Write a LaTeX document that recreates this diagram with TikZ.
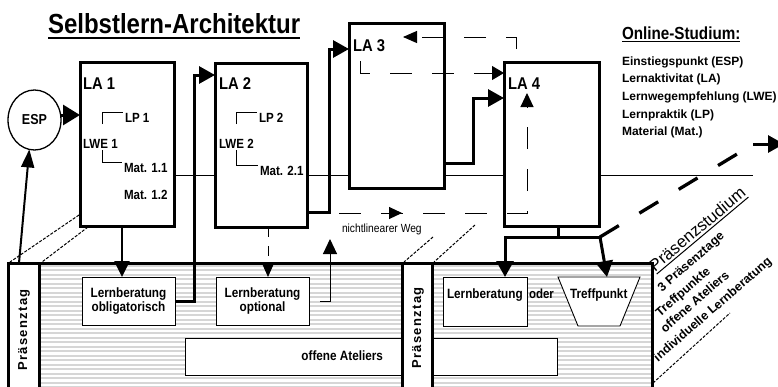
\documentclass[tikz,border=0pt]{standalone}
\usepackage{fontspec}
\setmainfont{Liberation Sans}[FakeStretch=0.87]
\newfontfamily\plainfont{Liberation Sans}
\newfontfamily\spacedfont{Liberation Sans}[LetterSpace=10]
\usetikzlibrary{arrows.meta,shapes.geometric,decorations.markings}
\newcommand\fsz[2]{\fontsize{#1}{#2}\selectfont}
\begin{document}
\begin{tikzpicture}[x=1pt,y=-1pt,
  labox/.style={draw,line width=3pt,fill=white,inner sep=0pt,outer sep=0pt,anchor=north west},
  lbbox/.style={draw,line width=0.9pt,fill=white,inner sep=0pt,outer sep=0pt,anchor=north west,align=center,font=\fsz{13.5pt}{14.5pt}\bfseries},
  txt/.style={inner sep=0pt,outer sep=0pt,anchor=base west},
  latxt/.style={txt,font=\fsz{17pt}{17pt}\bfseries},
  smtxt/.style={txt,font=\fsz{13.3pt}{13.3pt}\bfseries},
  legtxt/.style={txt,font=\plainfont\fsz{12pt}{12pt}\bfseries},
  rottxt/.style={txt,rotate=41,font=\plainfont\fsz{12.4pt}{12.4pt}\bfseries},
  pztxt/.style={rotate=90,inner sep=0pt,font=\spacedfont\fsz{13pt}{13pt}\bfseries},
  stripe/.style={line width=2pt,gray!32},
  border/.style={line width=3pt},
  bracket/.style={line width=0.9pt},
  thickarrow/.style={line width=3pt,-{Triangle[length=16pt,width=17pt]}},
  medarrow/.style={line width=2.5pt,-{Triangle[length=16pt,width=15pt]}},
  thinarrow/.style={line width=1pt,-{Triangle[length=15pt,width=14pt]}},
  dashpath/.style={line width=1pt,dash pattern=on 22pt off 20pt},
  finedash/.style={line width=1pt,dash pattern=on 3pt off 1.5pt},
]
\useasboundingbox (0,0) rectangle (778,386);
\clip (0,0) rectangle (778,386);

% ---------- title and legend
\node[txt,font=\fsz{27.6pt}{28pt}\bfseries] (title) at (48,33) {Selbstlern-Architektur};
\draw[line width=1.3pt] ([yshift=-5pt]title.base west) -- ([yshift=-5pt]title.base east);
\node[txt,font=\fsz{17.5pt}{17.5pt}\bfseries] (olhead) at (622,39) {Online-Studium:};
\draw[line width=1pt] ([yshift=-2.5pt]olhead.base west) -- ([yshift=-2.5pt]olhead.base east);
\node[legtxt] (lg1) at (622,65.5) {Einstiegspunkt (ESP)};
\node[legtxt] (lg2) at (622,82.8) {Lernaktivitat (LA)};
\node[legtxt] (lg3) at (622,100.3) {Lernwegempfehlung (LWE)};
\node[legtxt] (lg4) at (622,118) {Lernpraktik (LP)};
\node[legtxt] (lg5) at (622,135.8) {Material (Mat.)};

% ---------- Praesenz area
\foreach \yy in {265.5,270,...,388} {
  \draw[stripe] (39,\yy) -- (402,\yy);
  \draw[stripe] (432,\yy) -- (652,\yy);
}
\node[lbbox,minimum width=93pt,minimum height=48pt] (lbo) at (82,277) {Lernberatung\\obligatorisch};
\node[lbbox,minimum width=93pt,minimum height=48pt] (lbopt) at (216,277) {Lernberatung\\optional};
\node[lbbox,minimum width=217pt,minimum height=37pt] (at1) at (185,338) {};
\node[lbbox,minimum width=125pt,minimum height=37pt] (at2) at (432,338) {};
\node[txt,anchor=base east,font=\fsz{13.5pt}{13.5pt}\bfseries] (tat) at (383,360) {offene Ateliers};
\node[lbbox,minimum width=84pt,minimum height=49pt] (lbr) at (443,277) {};
\node[txt,font=\fsz{13.5pt}{13.5pt}\bfseries] (tlbr) at (447,298) {Lernberatung};
\node[txt,font=\fsz{13.2pt}{13.2pt}\bfseries] (oder) at (529,298) {oder};
\coordinate (tpa) at (558,277);
\coordinate (tpb) at (640,277);
\coordinate (tpc) at (620,326);
\coordinate (tpd) at (578,326);
\filldraw[line width=0.9pt,fill=white] (tpa) -- (tpb) -- (tpc) -- (tpd) -- cycle;
\node[txt,font=\fsz{13.5pt}{13.5pt}\bfseries] (ttp) at (570,298) {Treffpunkt};

\draw[border] (8,392) -- (8,263) -- (652,263) -- (652,392);
\foreach \xx in {39,402,432} \draw[border] (\xx,263) -- (\xx,392);
\node[pztxt] (pz1) at (24,330) {Präsenztag};
\node[pztxt] (pz2) at (418,328) {Präsenztag};

% ---------- online boxes
\node[ellipse,draw,line width=1.3pt,fill=white,minimum width=53pt,minimum height=60pt,inner sep=0pt,outer sep=0pt,font=\fsz{14.4pt}{14.4pt}\bfseries] (esp) at (34.5,120) {ESP};
\node[labox,minimum width=94pt,minimum height=164pt] (la1) at (80,62) {};
\node[labox,minimum width=92pt,minimum height=164pt] (la2) at (215,63) {};
\node[labox,minimum width=95pt,minimum height=165pt] (la3) at (349,23) {};
\node[labox,minimum width=95pt,minimum height=164pt] (la4) at (504,62) {};

\node[latxt] (tla1) at (83,89) {LA 1};
\node[smtxt] (lp1) at (125,122) {LP 1};
\node[smtxt] (lwe1) at (83,148) {LWE 1};
\node[smtxt] (m11) at (124,172) {Mat. 1.1};
\node[smtxt] (m12) at (124,199) {Mat. 1.2};
\coordinate (b1) at (102,124);
\coordinate (b2) at (102,150);
\draw[bracket] (b1) |- ([xshift=-2pt]lp1.north west);
\draw[bracket] (b2) |- ([xshift=-2pt]m11.north west);

\node[latxt] (tla2) at (219,89) {LA 2};
\node[smtxt] (lp2) at (259,122) {LP 2};
\node[smtxt] (lwe2) at (219,148) {LWE 2};
\node[smtxt] (m21) at (260,175) {Mat. 2.1};
\coordinate (b3) at (236,124);
\coordinate (b4) at (236,150);
\draw[bracket] (b3) |- ([xshift=-2pt]lp2.north west);
\draw[bracket] (b4) |- ([xshift=-2pt]m21.north west);

\node[latxt] (tla3) at (353,51) {LA 3};
\node[latxt] (tla4) at (508,89) {LA 4};

% ---------- thin horizontal line
\coordinate (hl) at (753,175);
\draw[line width=1pt] (la1.east |- hl) -- (la2.west |- hl) (la2.east |- hl) -- (la3.west |- hl)
  (la3.east |- hl) -- (la4.west |- hl) (la4.east |- hl) -- (hl);

% ---------- perspective lines
\coordinate (q1) at (79,215); \coordinate (q2) at (10,262);
\coordinate (q3) at (88,227); \coordinate (q4) at (42,262);
\coordinate (q5) at (433,237); \coordinate (q6) at (404,262);
\coordinate (q7) at (475,225); \coordinate (q8) at (434,262);
\coordinate (q9) at (653,383); \coordinate (q10) at (730,313);
\draw[finedash] (q1) -- (q2);
\draw[finedash] (q3) -- (q4);
\draw[finedash] (q5) -- (q6);
\draw[finedash] (q7) -- (q8);
\draw[finedash] (q9) -- (q10);

% ---------- connectors
\coordinate (e1) at ([yshift=5pt]esp.east);
\draw[line width=3pt,-{Triangle[length=17pt,width=20pt]}] (e1) -- (e1 -| la1.west);
\coordinate (p0) at (19,263);
\draw[line width=2pt,-{Triangle[length=18pt,width=13pt]}] (p0) -- (esp.260);

\coordinate (c1) at (122,0);
\draw[medarrow] (la1.south -| c1) -- (lbo.north -| c1);
\coordinate (k1) at (194,75);
\draw[thickarrow] (lbo.east) -| (k1) -- (k1 -| la2.west);
\coordinate (k2a) at (329,212);
\coordinate (k2b) at (329,49);
\draw[thickarrow] (k2a -| la2.east) -- (k2a) -- (k2b) -- (k2b -| la3.west);
\coordinate (k3a) at (473,163);
\coordinate (k3b) at (473,98);
\draw[thickarrow] (k3a -| la3.east) -- (k3a) -- (k3b) -- (k3b -| la4.west);

\coordinate (k4) at (558,237);
\coordinate (k4l) at (505,237);
\coordinate (k4r) at (600,237);
\coordinate (tpt) at (607,277);
\draw[line width=3pt] (la4.south -| k4) -- (k4);
\draw[thickarrow] (k4r) -- (k4l) -- (k4l |- lbr.north);
\draw[thickarrow] (k4r) -- (tpt);
\coordinate (dg) at (747,148);
\draw[line width=3.3pt,dash pattern=on 22pt off 24pt] (k4r) -- (dg);
\coordinate (ar1) at (753,144);
\coordinate (ar2) at (784,144);
\draw[thickarrow] (ar1) -- (ar2);

\coordinate (c3) at (268,0);
\draw[line width=1pt,dash pattern=on 10pt off 9pt,-{Triangle[length=15pt,width=13pt]}] (la2.south -| c3) -- (lbopt.north -| c3);
\coordinate (n3) at (330,239);
\draw[thinarrow] ([xshift=11pt]lbopt.east) -| (n3);
\coordinate (n4) at (339,213);
\coordinate (n5) at (527,213);
\coordinate (n6) at (527,93);
\draw[dashpath,-{Triangle[length=14pt,width=13pt]},postaction={decorate},
  decoration={markings,mark=at position 63pt with {\arrow{Triangle[length=13pt,width=12pt]}}}]
  (n4) -- (n5) -- (n6);
\node[txt,font=\fsz{11.8pt}{11.8pt}] (nlw) at (342,232) {nichtlinearer Weg};

\coordinate (m1) at (360,61);
\coordinate (m2) at (360,73);
\draw[dashpath,-{Triangle[length=12pt,width=14pt]}] (m1) -- (m2) -- (m2 -| la4.west);
\coordinate (m3) at (516,49);
\coordinate (m4) at (516,37);
\coordinate (m5) at (403,37);
\draw[dashpath,-{Triangle[length=14pt,width=12pt]}] (m3) -- (m4) -- (m5);

% ---------- Praesenzstudium texts
\node[txt,rotate=40,inner ysep=2.5pt,font=\plainfont\fsz{16.7pt}{16.7pt}] (ps) at (655,272) {Präsenzstudium};
\draw[line width=1pt] (ps.south west) -- (ps.south east);
\node[rottxt] (r1) at (662,292) {3 Präsenztage};
\node[rottxt] (r2) at (660,317) {Treffpunkte};
\node[rottxt] (r3) at (665,333) {offene Ateliers};
\node[rottxt] (r4) at (658,362) {individuelle Lernberatung};
\end{tikzpicture}
\end{document}
